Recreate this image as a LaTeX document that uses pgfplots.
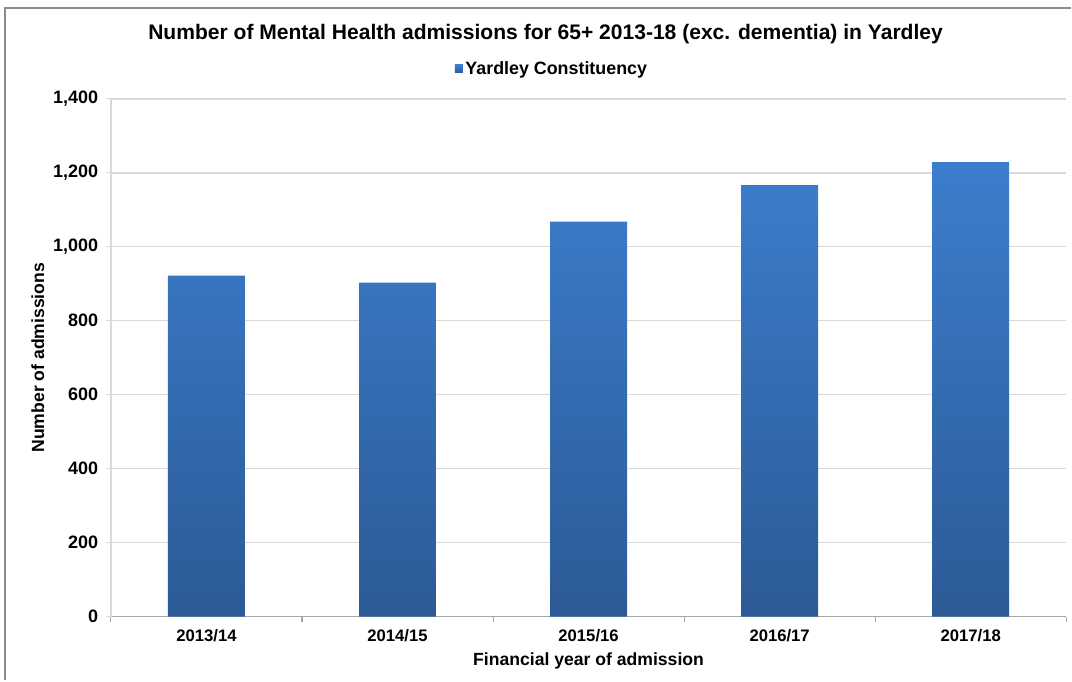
\documentclass[border=0pt]{standalone}
\usepackage{pgfplots}
\pgfplotsset{compat=1.18}
\usepackage{fontspec}
\setmainfont{Liberation Sans}

\definecolor{bartop}{RGB}{60,126,205}
\definecolor{barbot}{RGB}{44,90,150}
\definecolor{gridc}{RGB}{217,217,217}
\definecolor{axisc}{RGB}{166,166,166}
\definecolor{framec}{RGB}{140,140,140}

\begin{document}
\begin{tikzpicture}[x=0.75pt,y=0.75pt]
% page area and chart border
\fill[white] (-111,-64) rectangle (961,617);
\draw[framec, line width=1.2pt] (-106,-64) -- (-106,609) -- (961,609);

\begin{axis}[
    at={(0,0)}, anchor=south west,
    scale only axis,
    width=717pt, height=388.5pt,
    xmin=-0.5, xmax=4.5,
    ymin=0, ymax=1400,
    ytick={0,200,...,1400},
    xtick={0,1,2,3,4},
    xticklabels={2013/14,2014/15,2015/16,2016/17,2017/18},
    minor xtick={-0.5,0.5,1.5,2.5,3.5,4.5},
    major x tick style={draw=none},
    minor x tick style={axisc, line width=0.8pt},
    y tick style={gridc, line width=0.8pt},
    tick align=outside,
    major tick length=4pt,
    minor tick length=4pt,
    ymajorgrids,
    grid style={gridc, line width=1pt},
    axis x line*=bottom,
    axis y line*=left,
    x axis line style={axisc, line width=1pt, -},
    y axis line style={gridc, line width=1pt, -},
    tick label style={font=\fontsize{12.5}{14}\selectfont\bfseries},
    yticklabel style={font=\fontsize{13.5}{15}\selectfont\bfseries, xshift=-2pt},
    /pgf/number format/.cd, 1000 sep={,}, assume math mode=true,
    /pgfplots/.cd,
    xticklabel style={yshift=-2pt},
    xlabel={Financial year of admission},
    ylabel={Number of admissions},
    label style={font=\fontsize{13.2}{15}\selectfont\bfseries},
    xlabel style={at={(axis description cs:0.5,0)}, anchor=center, yshift=-33.5pt},
    ylabel style={at={(axis description cs:-0.0764,0.5)}, anchor=center},
    title={Number of Mental Health admissions for 65+ 2013-18 (exc. dementia) in Yardley},
    title style={font=\fontsize{15.8}{18}\selectfont\bfseries, at={(axis description cs:0.455,1.127)}, anchor=center, yshift=-6.75pt},
    legend style={at={(axis description cs:0.462,1.058)}, anchor=center, draw=none,
        font=\fontsize{13.4}{15}\selectfont\bfseries, inner sep=0pt},
    legend image code/.code={\fill[bartop] (0pt,-3pt) rectangle (6pt,3pt);},
    legend cell align=left,
    clip=false,
]
\addplot[ybar, bar width=57.75pt, draw=none, top color=bartop, bottom color=barbot, bar shift=0pt]
coordinates {
    (0,922)
    (1,903)
    (2,1068)
    (3,1167)
    (4,1229)
};
\addlegendentry{Yardley Constituency}
\end{axis}
\end{tikzpicture}
\end{document}
